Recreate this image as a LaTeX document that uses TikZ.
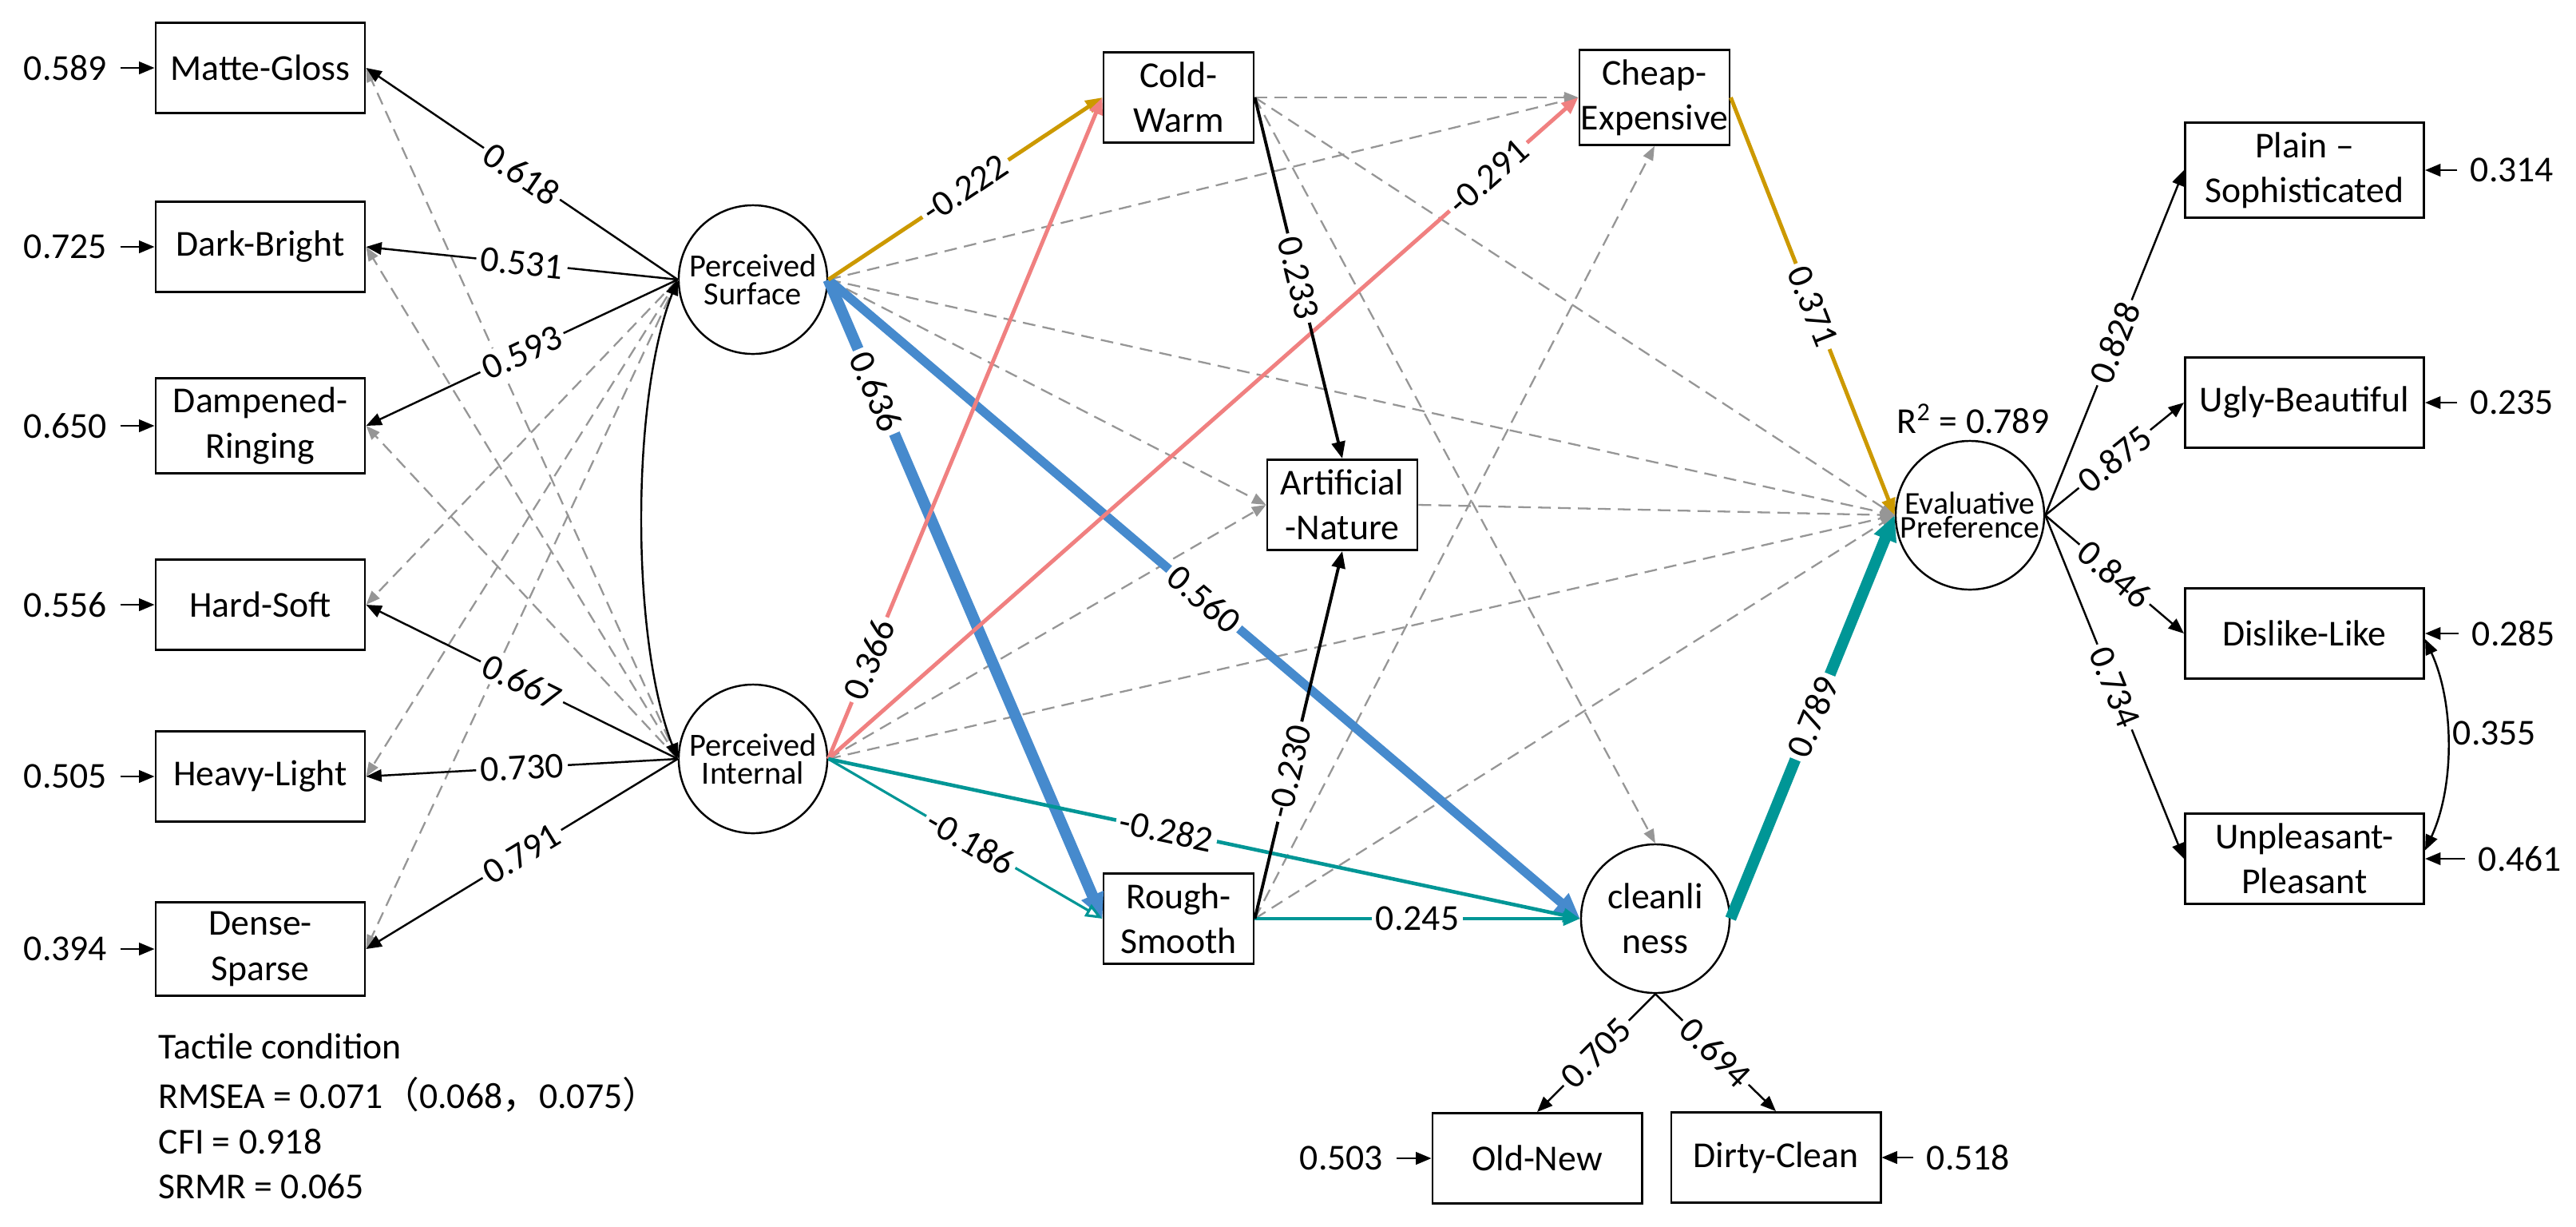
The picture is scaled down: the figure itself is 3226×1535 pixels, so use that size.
\documentclass[tikz,border=0pt]{standalone}
\usepackage{fontspec}
\setmainfont{Carlito}
\newfontfamily\cjkfont{Noto Sans CJK SC}
\usetikzlibrary{arrows.meta}
\definecolor{goldc}{RGB}{204,153,0}
\definecolor{pinkc}{RGB}{240,128,128}
\definecolor{bluec}{RGB}{70,138,205}
\definecolor{tealc}{RGB}{0,150,150}
\definecolor{dgray}{RGB}{150,150,150}
\newcommand\myfs{\fontsize{13}{16}\selectfont}
\newcommand\latfs{\fontsize{11.5}{9.8}\selectfont}
\newcommand\epfs{\fontsize{11.3}{8.6}\selectfont}
\begin{document}
\begin{tikzpicture}[x=0.01cm,y=-0.01cm,
  lbox/.style={draw, line width=0.8pt, minimum width=2.62cm, minimum height=1.13cm, align=center, font=\myfs, inner xsep=1pt},
  mbox/.style={lbox, minimum width=1.88cm, inner xsep=0pt},
  rbox/.style={lbox, minimum width=2.99cm},
  lat/.style={draw, circle, line width=0.7pt, minimum size=1.86cm, inner sep=0pt, align=center},
  err/.style={font=\myfs, inner xsep=4.5pt, inner ysep=1pt},
  tip/.style={-{Triangle[length=5.5pt,width=4.4pt]}},
  load/.style={tip, line width=0.7pt, draw=black},
  cov/.style={{Triangle[length=5.5pt,width=4.4pt]}-{Triangle[length=5.5pt,width=4.4pt]}, line width=0.7pt},
  dsh/.style={draw=dgray, line width=0.65pt, dash pattern=on 4.5pt off 2.6pt, -{Triangle[length=5pt,width=3.8pt]}},
  lab/.style={sloped, fill=white, text=black, inner sep=1.5pt, font=\myfs},
  midpath/.style={line width=1.4pt, -{Triangle[length=6pt,width=4.8pt]}},
  thickpath/.style={line width=4pt, -{Triangle[length=9pt,width=8pt]}},
]
\useasboundingbox (0,0) rectangle (3226,1535);
\fill[white] (0,0) rectangle (3226,1535);

% left indicators
\node[lbox] (mg) at (326,85) {Matte-Gloss};
\node[lbox] (db) at (326,309) {Dark-Bright};
\node[lbox] (dr) at (326,533) {Dampened-\\Ringing};
\node[lbox] (hs) at (326,757) {Hard-Soft};
\node[lbox] (hl) at (326,972) {Heavy-Light};
\node[lbox] (ds) at (326,1188) {Dense-\\Sparse};

\node[err] (e1) at (82,85) {0.589};
\node[err] (e2) at (82,309) {0.725};
\node[err] (e3) at (82,533) {0.650};
\node[err] (e4) at (82,757) {0.556};
\node[err] (e5) at (82,972) {0.505};
\node[err] (e6) at (82,1188) {0.394};

% latent variables
\node[lat, font=\latfs] (ps) at (943,350) {Perceived\\Surface};
\node[lat, font=\latfs] (pi) at (943,950) {Perceived\\Internal};
\node[lat, font=\myfs] (cl) at (2073,1150) {cleanli\\ness};
\node[lat, font=\epfs] (ep) at (2467,645) {Evaluative\\Preference};

% middle boxes
\node[mbox] (cw) at (1476,122) {Cold-\\Warm};
\node[mbox] (ce) at (2072,122) {Cheap-\\Expensive};
\node[mbox] (an) at (1681,632) {Artificial\\-Nature};
\node[mbox] (rs) at (1476,1150) {Rough-\\Smooth};

% bottom boxes
\node[lbox] (on) at (1925,1450) {Old-New};
\node[lbox] (dc) at (2224,1449) {Dirty-Clean};
\node[err] (e7) at (1680,1450) {0.503};
\node[err] (e8) at (2465,1449) {0.518};

% right boxes
\node[rbox] (pl) at (2886,213) {Plain –\\Sophisticated};
\node[rbox] (ub) at (2886,504) {Ugly-Beautiful};
\node[rbox] (dl) at (2886,793) {Dislike-Like};
\node[rbox] (up) at (2886,1075) {Unpleasant-\\Pleasant};
\node[err] (e9) at (3146,213) {0.314};
\node[err] (e10) at (3146,504) {0.235};
\node[err] (e11) at (3148,793) {0.285};
\node[err] (e12) at (3156,1075) {0.461};

\node[font=\myfs, anchor=base] (r2) at (2471,542) {R\textsuperscript{2} = 0.789};
\node[font=\myfs] (cv) at (3124,918) {0.355};

% fit text
\node[font=\myfs, anchor=base west, inner sep=0pt] (t1) at (198,1325) {Tactile condition};
\node[font=\myfs, anchor=base west, inner sep=0pt] (t2) at (198,1387) {RMSEA = 0.071{\cjkfont （}0.068{\cjkfont ，}0.075{\cjkfont ）}};
\node[font=\myfs, anchor=base west, inner sep=0pt] (t3) at (198,1444) {CFI = 0.918};
\node[font=\myfs, anchor=base west, inner sep=0pt] (t4) at (198,1500) {SRMR = 0.065};

% error arrows
\foreach \e/\b in {e1/mg,e2/db,e3/dr,e4/hs,e5/hl,e6/ds,e7/on}
  \draw[load] (\e) -- (\b.west);
\foreach \e/\b in {e8/dc,e9/pl,e10/ub,e11/dl,e12/up}
  \draw[load] (\e) -- (\b.east);

% dashed (non-significant) paths
\draw[dsh] (pi.west) -- (mg.east);
\draw[dsh] (pi.west) -- (db.east);
\draw[dsh] (pi.west) -- (dr.east);
\draw[dsh] (ps.west) -- (hs.east);
\draw[dsh] (ps.west) -- (hl.east);
\draw[dsh] (ps.west) -- (ds.east);
\draw[dsh] (ps.east) -- (ce.west);
\draw[dsh] (ps.east) -- (an.west);
\draw[dsh] (ps.east) -- (ep.west);
\draw[dsh] (pi.east) -- (an.west);
\draw[dsh] (pi.east) -- (ep.west);
\draw[dsh] (cw.east) -- (ce.west);
\draw[dsh] (cw.east) -- (ep.west);
\draw[dsh] (cw.east) -- (cl.north);
\draw[dsh] (rs.east) -- (ce.south);
\draw[dsh] (rs.east) -- (ep.west);
\draw[dsh] (an.east) -- (ep.west);

% loadings left
\draw[load] (ps.west) -- node[lab]{0.618} (mg.east);
\draw[load] (ps.west) -- node[lab]{0.531} (db.east);
\draw[load] (ps.west) -- node[lab]{0.593} (dr.east);
\draw[load] (pi.west) -- node[lab]{0.667} (hs.east);
\draw[load] (pi.west) -- node[lab]{0.730} (hl.east);
\draw[load] (pi.west) -- node[lab]{0.791} (ds.east);

% covariance of latent factors
\coordinate (k1) at (790,500);
\coordinate (k2) at (790,800);
\draw[cov] (ps.west) .. controls (k1) and (k2) .. (pi.west);

% structural paths
\draw[thickpath, draw=bluec] (ps.east) -- node[lab,pos=0.175]{0.636} (rs.west);
\draw[thickpath, draw=bluec, line width=3.2pt] (ps.east) -- node[lab]{0.560} (cl.west);
\draw[midpath, draw=goldc] (ps.east) -- node[lab]{-0.222} (cw.west);
\draw[midpath, draw=pinkc] (pi.east) -- node[lab,pos=0.15]{0.366} (cw.west);
\draw[midpath, draw=pinkc] (pi.east) -- node[lab,pos=0.88]{-0.291} (ce.west);
\draw[draw=tealc, line width=0.9pt, -{Triangle[open,length=6pt,width=4.8pt]}] (pi.east) -- node[lab,pos=0.52]{-0.186} (rs.west);
\draw[midpath, draw=tealc, line width=1.3pt] (pi.east) -- node[lab,pos=0.45]{-0.282} (cl.west);
\draw[midpath, draw=tealc, line width=1.3pt] (rs.east) -- node[lab]{0.245} (cl.west);
\draw[midpath, draw=black, line width=1.1pt] (cw.east) -- node[lab]{0.233} (an.north);
\draw[midpath, draw=black, line width=1.1pt] (rs.east) -- node[lab,pos=0.4]{-0.230} (an.south);
\draw[midpath, draw=goldc] (ce.east) -- node[lab]{0.371} (ep.west);
\draw[thickpath, draw=tealc] (cl.east) -- node[lab]{0.789} (ep.west);

% loadings of outcomes
\draw[load] (ep.east) -- node[lab]{0.828} (pl.west);
\draw[load] (ep.east) -- node[lab]{0.875} (ub.west);
\draw[load] (ep.east) -- node[lab]{0.846} (dl.west);
\draw[load] (ep.east) -- node[lab]{0.734} (up.west);
\draw[load] (cl.south) -- node[lab]{0.705} (on.north);
\draw[load] (cl.south) -- node[lab]{0.694} (dc.north);

% residual covariance
\coordinate (k3) at (3074,880);
\coordinate (k4) at (3074,985);
\draw[cov] ([yshift=-2pt]dl.east) .. controls (k3) and (k4) .. ([yshift=3pt]up.east);
\end{tikzpicture}
\end{document}
